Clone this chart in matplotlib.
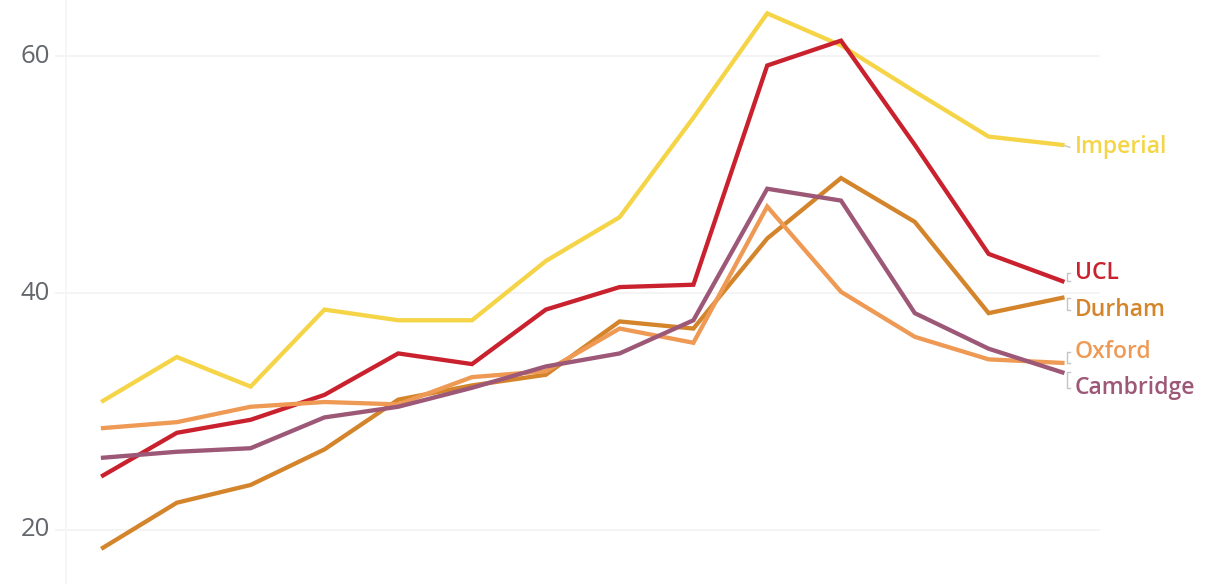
import numpy as np
import matplotlib as mpl
import matplotlib.pyplot as plt

mpl.rcParams.update({
    "font.family": ["Open Sans", "DejaVu Sans"],
})

# ===== DATA =====
periods = list(range(14))
imperial  = [30.9, 34.6, 32.1, 38.6, 37.7, 37.7, 42.7, 46.4, 54.8, 63.6, 60.9, 57.0, 53.2, 52.5]
ucl       = [24.6, 28.2, 29.3, 31.4, 34.9, 34.0, 38.6, 40.5, 40.7, 59.2, 61.3, 52.5, 43.3, 41.0]
durham    = [18.5, 22.3, 23.8, 26.8, 31.0, 32.2, 33.1, 37.6, 37.0, 44.6, 49.7, 46.0, 38.3, 39.6]
oxford    = [28.6, 29.1, 30.4, 30.8, 30.6, 32.9, 33.4, 37.0, 35.8, 47.3, 40.1, 36.3, 34.4, 34.1]
cambridge = [26.1, 26.6, 26.9, 29.5, 30.4, 32.0, 33.8, 34.9, 37.7, 48.8, 47.8, 38.3, 35.3, 33.3]

names  = ["Imperial", "UCL", "Durham", "Oxford", "Cambridge"]
values = [imperial, ucl, durham, oxford, cambridge]
label_y = [52.3, 41.7, 38.6, 35.0, 32.0]   # where the end labels sit
COLORS = ["#F5D547", "#C9222E", "#D4852C", "#EE9A55", "#9C5876"]

yticks = [20, 40, 60]

# ===== PLOT =====
fig = plt.figure(figsize=(12.1, 5.84), dpi=100)
ax = fig.add_axes([0, 0, 1, 1])
ax.set_xlim(-1.396, 15.0)
ax.set_ylim(15.44, 64.73)
ax.axis("off")

# faint grid + left rule
for t in yticks:
    ax.hlines(t, -0.65, 13.51, color="#f4f4f4", lw=1.4, zorder=0)
    ax.text(-0.72, t, str(t), ha="right", va="center", fontsize=18.5,
            color="#63676c")
ax.vlines(-0.5, 15.44, 64.73, color="#f6f6f6", lw=1.4, zorder=0)

for name, vals, ly, c in zip(names, values, label_y, COLORS):
    ax.plot(periods, vals, color=c, lw=3.1, solid_joinstyle="miter", zorder=2)
    yend = vals[-1]
    # small bracket connecting line end to its label
    if abs(ly - yend) > 0.3:
        bx = [13.1, 13.06, 13.06, 13.1]
        by = [yend, yend, ly, ly]
    else:
        bx = [13.0, 13.1]
        by = [yend, ly]
    ax.plot(bx, by, color="#c4c4c4", lw=1.0, zorder=1)
    ax.text(13.17, ly, name, ha="left", va="center", fontsize=16.5,
            fontweight="semibold", color=c)

fig.savefig("out.png", dpi=100)
